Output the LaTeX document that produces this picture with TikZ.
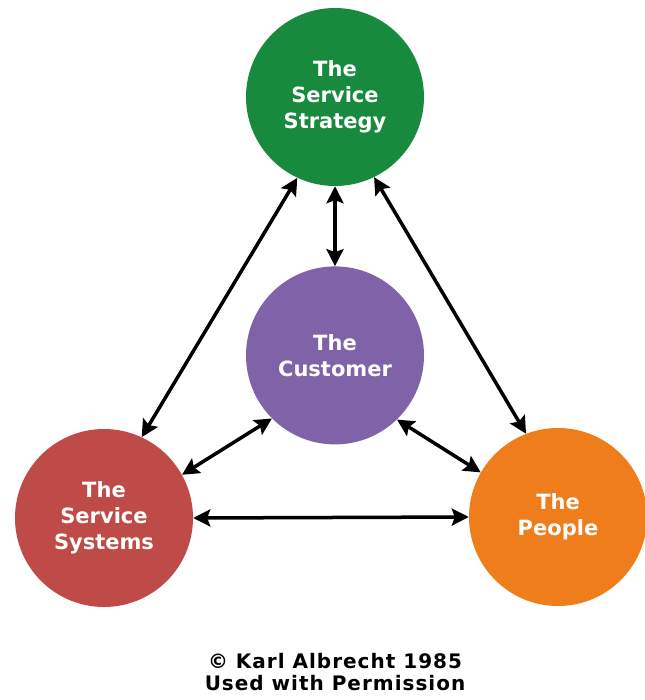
\documentclass[tikz,border=0pt]{standalone}
\usepackage{fontspec}
\setmainfont{DejaVu Sans}
\usetikzlibrary{positioning,arrows.meta}
\definecolor{mygreen}{RGB}{24,138,62}
\definecolor{mypurple}{RGB}{128,98,168}
\definecolor{myred}{RGB}{190,75,72}
\definecolor{myorange}{RGB}{240,125,28}

\begin{document}
\begin{tikzpicture}[x=1pt, y=-1pt,
        c/.style={circle, minimum size=178pt, inner sep=0pt, align=center,
                  text=white, font=\fontsize{21}{26}\selectfont\bfseries},
        arr/.style={{Stealth[length=17pt,width=17pt,inset=3pt]}-{Stealth[length=17pt,width=17pt,inset=3pt]},
                    line width=3.5pt}
      ]
        \useasboundingbox (0,0) rectangle (644,700);
        \node[c, fill=mygreen] (strat) at (335,97) {The\\Service\\Strategy};
        \node[c, fill=mypurple, below=80pt of strat] (cust) {The\\Customer};
        \node[c, fill=myred] (sys) at (104,518) {The\\Service\\Systems};
        \node[c, fill=myorange] (ppl) at (558,517) {The\\People};
        \draw[arr] (strat.270) -- (cust.90);
        \draw[arr] (strat.245) -- (sys.65);
        \draw[arr] (strat.296) -- (ppl.111);
        \draw[arr] (cust.225) -- (sys.29);
        \draw[arr] (cust.314) -- (ppl.150);
        \draw[arr] (sys.0) -- (ppl.180);
        \node[font=\fontsize{20}{22}\addfontfeature{LetterSpace=5}\bfseries, align=center, inner sep=0pt]
              (copy) at (335,672) {© Karl Albrecht 1985\\Used with Permission};
      \end{tikzpicture}
\end{document}
